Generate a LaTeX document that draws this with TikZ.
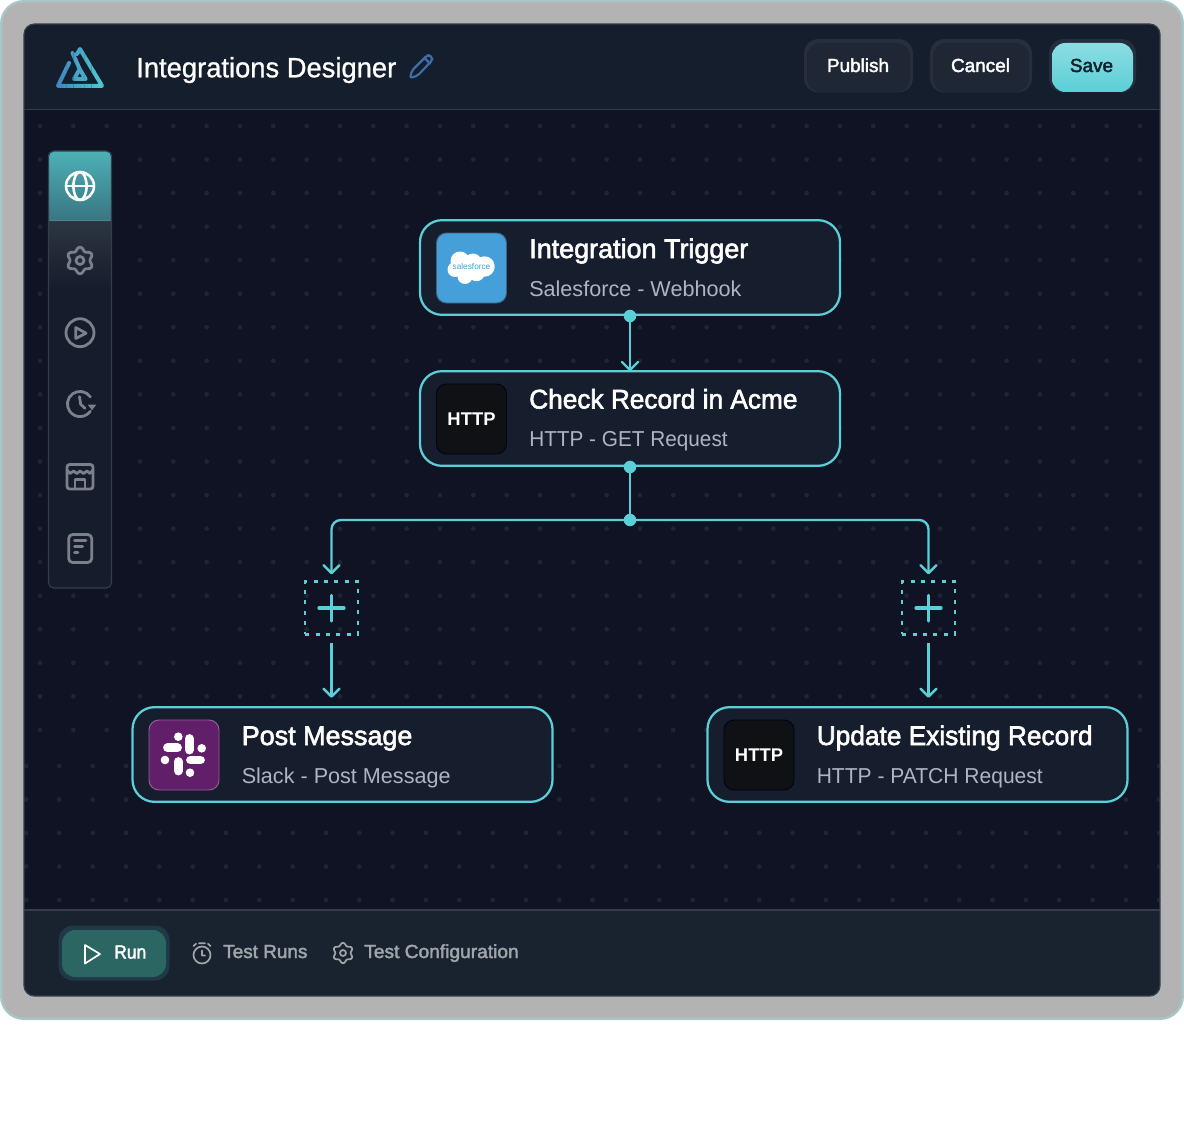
\documentclass[tikz,border=0pt]{standalone}
\usepackage{fontspec}
\usepackage{graphicx}
\setmainfont{Liberation Sans}
\newfontfamily\medf[FakeBold=2.2]{Liberation Sans}
\newfontfamily\lightf[FakeBold=0.9]{Liberation Sans}
\newfontfamily\regf{Liberation Sans}
\newcommand{\sx}[2]{\scalebox{#1}[1]{#2}}
\usetikzlibrary{arrows.meta}
\definecolor{cFrame}{HTML}{B3B3B3}
\definecolor{cFrameB}{HTML}{A8C6C8}
\definecolor{cHead}{HTML}{141E2D}
\definecolor{cCanvas}{HTML}{0F1323}
\definecolor{cFoot}{HTML}{18232F}
\definecolor{cEdge}{HTML}{353D4B}
\definecolor{cDot}{HTML}{1F2436}
\definecolor{cCard}{HTML}{161D2C}
\definecolor{cTeal}{HTML}{5BCFD6}
\definecolor{cSub}{HTML}{B0B3C3}
\definecolor{cIcon}{HTML}{7C808B}
\definecolor{cFootT}{HTML}{A0A4AB}
\definecolor{cPen}{HTML}{3F6FA8}
\definecolor{cSf}{HTML}{45A0DA}
\definecolor{cSlack}{HTML}{611F69}
\definecolor{cBlack}{HTML}{101114}
\definecolor{cRun}{HTML}{2B6663}
\definecolor{cRunH}{HTML}{1F3A46}
\definecolor{logoA}{HTML}{3F7FBE}
\definecolor{logoB}{HTML}{50CDD2}
\tikzset{
  card/.style={draw=cTeal,fill=cCard,line width=1.7pt,rounded corners=16.5pt,minimum width=315pt,minimum height=71pt,inner sep=0pt,outer sep=0pt},
  titletxt/.style={anchor=base west,inner sep=0pt,text=white,font=\medf\fontsize{20.2}{24}\selectfont},
  subtxt/.style={anchor=base west,inner sep=0pt,text=cSub,font=\regf\fontsize{16.2}{20}\selectfont},
  logobox/.style={rounded corners=7.5pt,minimum width=52.5pt,minimum height=52.5pt,inner sep=0pt,line width=0.7pt},
  httptxt/.style={anchor=base,inner sep=0pt,text=white,font=\bfseries\fontsize{13.8}{16}\selectfont},
  btntxt/.style={anchor=base,inner sep=0pt,font=\medf\fontsize{14.2}{17}\selectfont},
  foottxt/.style={anchor=base west,inner sep=0pt,text=cFootT,font=\medf\fontsize{14.2}{17}\selectfont},
  conn/.style={draw=cTeal,line width=1.8pt},
  arr/.style={-{Straight Barb[length=6pt,width=12pt,line width=1.8pt,round]}},
  joint/.style={circle,fill=cTeal,minimum size=9.4pt,inner sep=0pt,outer sep=0pt},
  plusbox/.style={draw=cTeal,line width=1.9pt,dash pattern=on 3pt off 4.8pt,minimum size=39.5pt,inner sep=0pt,outer sep=0pt},
  plusbar/.style={draw=cTeal,line width=2.4pt,line cap=round},
  ico/.style={draw=cIcon,line width=2.1pt,line cap=round,line join=round},
  ficon/.style={draw=cFootT,line width=1.3pt,line cap=round,line join=round},
  slackbar/.style={draw=white,line width=6.6pt,line cap=round},
}
\newcommand{\gearicon}[5]{% cx cy R amp style
  \draw[#5] plot[smooth cycle,domain=0:354,samples=60] ({#1+(#3-#4*cos(6*\x))*cos(\x)},{#2+(#3-#4*cos(6*\x))*sin(\x)});
}
\newcommand{\logoshape}{%
  \draw[line width=3pt,line cap=round,line join=round,draw=lg]
    (69,63) -- (58,85.8) -- (102,85.8) -- (80,49) -- (77,54)
    (72.5,53) -- (79.7,69) -- (85.6,79) -- (74,79) -- (79.7,69);
}
\begin{document}
\begin{tikzpicture}[x=0.75pt,y=-0.75pt]
\path[use as bounding box,fill=white] (0,0) rectangle (1184,1120);
% frame
\draw[fill=cFrame,draw=cFrameB,line width=1.8pt,rounded corners=17pt] (1.2,1.2) rectangle (1182.8,1018.8);
% window
\begin{scope}
  \clip[rounded corners=8pt] (24,24) rectangle (1160,996);
  \fill[cCanvas] (24,24) rectangle (1160,996);
  \fill[cHead] (24,24) rectangle (1160,110);
  \fill[cFoot] (24,910) rectangle (1160,996);
  \foreach \r in {0,...,18}{\foreach \c in {0,...,33}{
    \fill[cDot] ({40+33.33*\c},{126+33.55*\r}) circle[radius=2.4];}}
  \foreach \r in {0,...,4}{\foreach \c in {0,...,34}{
    \fill[cDot] ({26+33.33*\c},{766+33.5*\r}) circle[radius=2.4];}}
  \draw[cEdge,line width=1pt] (24,109.5) -- (1160,109.5);
  \draw[cEdge,line width=1pt] (24,910) -- (1160,910);
\end{scope}
\draw[cEdge,line width=1pt,rounded corners=8pt] (24,24) rectangle (1160,996);
% logo
\foreach \i in {0,...,14}{
  \pgfmathsetmacro{\pp}{100-100*\i/14}
  \colorlet{lg}{logoA!\pp!logoB}
  \begin{scope}
    \clip ({52+\i*3.6},40) rectangle ({52+\i*3.6+3.7},95);
    \logoshape
  \end{scope}
}
\node[anchor=base west,inner sep=0pt,text=white,font=\lightf\fontsize{21}{25}\selectfont] (apptitle) at (136,77.3) {\sx{0.977}{Integrations Designer}};
% pencil
\draw[cPen,line width=1.6pt,line join=round,line cap=round,rounded corners=1.5pt] (410,78) -- (412,70.5) -- (427,55.5) -- (429.5,55) -- (432.5,58) -- (432,60.5) -- (417.5,75.7) -- cycle;
\draw[cPen,line width=1.6pt,line cap=round] (424.5,58) -- (430,63.5);
% top buttons
\fill[fill=cEdge!55!cHead,rounded corners=11pt] (804,39) rectangle (913,92.5);
\fill[fill=cEdge!55!cHead,rounded corners=11pt] (930,39) rectangle (1032,92.5);
\fill[fill=cEdge!50!cHead,rounded corners=11pt] (1049,39) rectangle (1136,92.5);
\fill[fill=cCard!70!cEdge,rounded corners=10pt] (807,43) rectangle (910,92);
\fill[fill=cCard!70!cEdge,rounded corners=10pt] (933,43) rectangle (1029,92);
\shade[top color=cTeal!70!white,bottom color=cTeal,rounded corners=10pt] (1052,43) rectangle (1133,92);
\node[btntxt,text=white] (publish) at (858,72) {Publish};
\node[btntxt,text=white] (cancel) at (980.5,72) {Cancel};
\node[btntxt,text=cHead] (save) at (1091.5,72) {Save};
% sidebar
\begin{scope}
  \clip[rounded corners=4pt] (48,151) rectangle (112,588);
  \fill[cCard!85!cCanvas] (48,151) rectangle (112,588);
  \shade[top color=cHead!70!cFoot!90!white,bottom color=cCard!85!cCanvas] (48,220) rectangle (112,290);
  \shade[top color=cTeal!85!black,bottom color=cTeal!50!cHead] (48,151) rectangle (112,220);
  \draw[cTeal!50!cEdge,line width=0.8pt] (48,220.5) -- (112,220.5);
\end{scope}
\draw[cEdge,line width=0.8pt,rounded corners=4pt] (48.5,151) rectangle (111.5,588);
% sidebar icons
\begin{scope}[ico,draw=white,line width=1.9pt]
  \draw (80,186) circle[radius=14];
  \draw (66,186) -- (94,186);
  \draw (80,186) ellipse[x radius=6.6,y radius=14];
\end{scope}
\gearicon{80}{260.5}{11.6}{1.7}{ico}
\draw[ico] (80,260.5) circle[radius=4];
\draw[ico] (80,332.7) circle[radius=14];
\draw[ico] (75.7,327.5) -- (86,333.2) -- (75.7,338.5) -- cycle;
\draw[ico] ({80+12.6*cos(35)},{404-12.6*sin(35)}) arc[start angle=-35,end angle=-325,radius=12.6,x radius=12.6,y radius=12.6];
\draw[ico] (79.5,396.7) -- (80.7,404.3) -- (85,408.3);
\fill[cIcon,draw=cIcon,line width=0.6pt,line join=round] (88.5,405) -- (95.5,405) -- (92,409.5) -- cycle;
\draw[ico,rounded corners=2pt] (67,464.5) rectangle (93,489);
\draw[ico] (67,470) -- (70,473.5) -- (73.5,471) -- (77,473.5) -- (80,471) -- (83.5,473.5) -- (87,471) -- (90,473.5) -- (93,470);
\draw[ico] (75,489) -- (75,479.5) -- (85,479.5) -- (85,489);
\draw[ico,rounded corners=3pt] (68.7,534.5) rectangle (91.7,562.5);
\draw[ico] (74.5,540.7) -- (86,540.7) (74.5,546.7) -- (82.7,546.7) (74.5,552.7) -- (78,552.7);
% cards
\node[card] (n1) at (630,267.5) {};
\node[card] (n2) at (630,418.5) {};
\node[card] (n3) at (342.5,754.5) {};
\node[card] (n4) at (917.5,754.5) {};
% logos
\node[logobox,fill=cSf,draw=cEdge!60!cSf] (l1) at (471.5,268) {};
\node[logobox,fill=cBlack,draw=cEdge!130] (l2) at (471.5,419) {};
\node[logobox,fill=cSlack,draw=cSlack!70!white] (l3) at (184,755) {};
\node[logobox,fill=cBlack,draw=cEdge!130] (l4) at (759,755) {};
% salesforce cloud
\fill[white] (460,261) circle[radius=9.5] (473,262) circle[radius=8.5] (484.5,266.5) circle[radius=10.2] (455,269.5) circle[radius=7.5] (465,276.5) circle[radius=7.5] (476.5,273) circle[radius=8.2] (470,268) circle[radius=10];
\node[inner sep=0pt,text=cSf,font=\regf\fontsize{6.2}{8}\selectfont] (sftxt) at (471.5,266.5) {salesforce};
% http
\node[httptxt] (h1) at (471.5,425) {HTTP};
\node[httptxt] (h2) at (759,761) {HTTP};
% slack
\draw[slackbar] (189.3,738.5) -- (189.3,750);
\draw[slackbar] (167.5,747.7) -- (177.5,747.7);
\draw[slackbar] (178.3,761.5) -- (178.3,771);
\draw[slackbar] (190.5,760) -- (200.5,760);
\fill[white] (178.3,736.7) circle[radius=4.3] (201.7,748.3) circle[radius=4.3] (165,760) circle[radius=4.3] (190,772.7) circle[radius=4.3];
% card text
\node[titletxt] (t1) at (529,258) {Integration Trigger};
\node[subtxt] (s1) at (529,296) {Salesforce - Webhook};
\node[titletxt] (t2) at (529,408.5) {\sx{0.974}{Check Record in Acme}};
\node[subtxt] (s2) at (529,446) {\sx{0.961}{HTTP - GET Request}};
\node[titletxt] (t3) at (241.5,745) {Post Message};
\node[subtxt] (s3) at (241.5,783) {Slack - Post Message};
\node[titletxt] (t4) at (816.5,745) {\sx{0.975}{Update Existing Record}};
\node[subtxt] (s4) at (816.5,783) {\sx{0.974}{HTTP - PATCH Request}};
% connectors
\node[joint] (d1) at (630,316) {};
\node[joint] (d2) at (630,467) {};
\node[joint] (d3) at (630,520) {};
\node[plusbox] (pl) at (331.5,608) {};
\node[plusbox] (pr) at (928.5,608) {};
\draw[plusbar] (331.5,595.5) -- (331.5,621) (319,608) -- (344,608);
\draw[plusbar] (928.5,595.5) -- (928.5,621) (916,608) -- (941,608);
\draw[conn,arr] (d1) -- (n2.north);
\draw[conn] (d2) -- (d3);
\draw[conn,arr,rounded corners=7pt,shorten >=5.5pt] (d3.center) -| (pl.north);
\draw[conn,arr,rounded corners=7pt,shorten >=5.5pt] (d3.center) -| (pr.north);
\draw[conn,arr,shorten <=6.5pt,shorten >=7pt] (pl.south) -- (pl.south |- n3.north);
\draw[conn,arr,shorten <=6.5pt,shorten >=7pt] (pr.south) -- (pr.south |- n4.north);
% footer
\fill[cRunH,rounded corners=11pt] (58.5,925.5) rectangle (169.5,980.5);
\fill[cRun,rounded corners=10pt] (62,930) rectangle (166,977);
\draw[white,line width=1.3pt,line join=round] (85,945) -- (100,954) -- (85,963.5) -- cycle;
\node[foottxt,text=white] (run) at (114,958.5) {\sx{0.92}{Run}};
\draw[ficon] (202,955) circle[radius=8.5] (202,950.5) -- (202,955.5) -- (205,955.5) (199,943.2) -- (205,943.2) (193.5,946) -- (196,943.8) (210.5,946) -- (208,943.8);
\node[foottxt] (tr) at (223,958) {Test Runs};
\gearicon{343}{953}{8.9}{1.3}{ficon}
\draw[ficon] (343,953) circle[radius=3];
\node[foottxt] (tc) at (364,958) {\sx{1.012}{Test Configuration}};
\end{tikzpicture}
\end{document}
